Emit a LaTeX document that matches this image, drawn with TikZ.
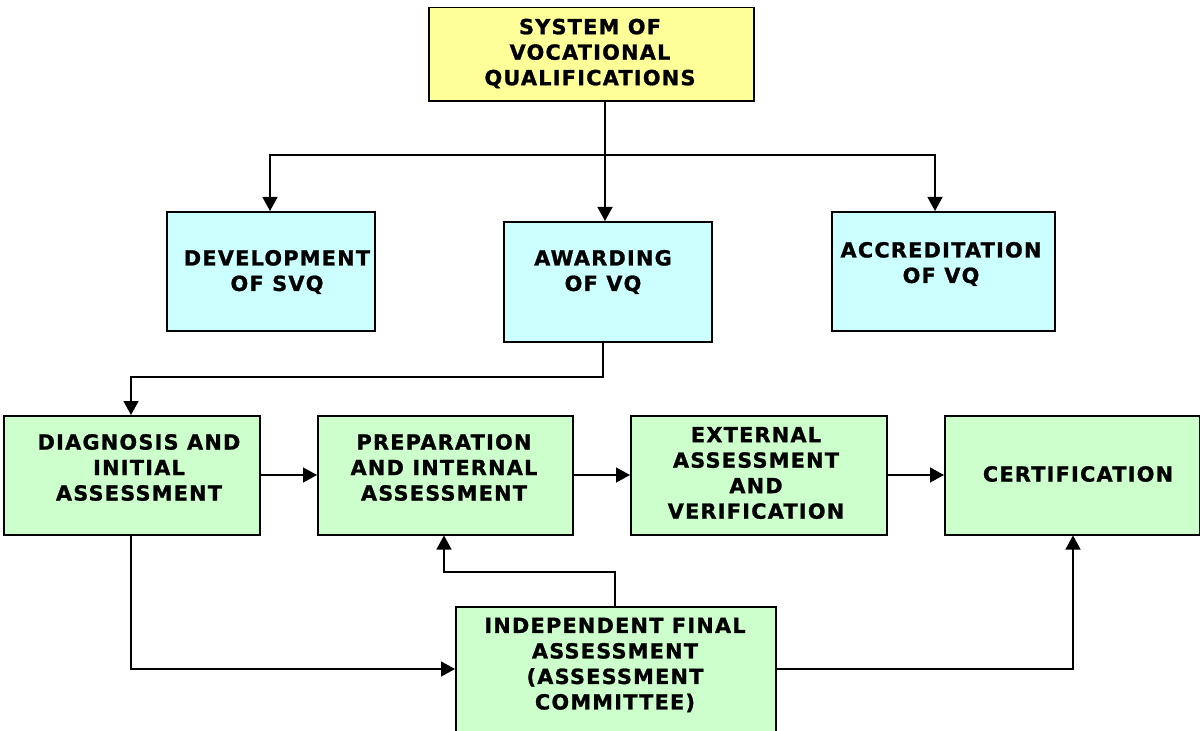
\documentclass[tikz,border=0pt]{standalone}
\usepackage{fontspec}
\setmainfont{DejaVu Sans}[LetterSpace=6, BoldFeatures={FakeBold=1.2}]
\usetikzlibrary{arrows.meta}
\definecolor{boxyellow}{HTML}{FFFF99}
\definecolor{boxcyan}{HTML}{CCFFFF}
\definecolor{boxgreen}{HTML}{CCFFCC}
\tikzset{
  box/.style={draw=black, line width=1.5bp, anchor=north west, inner sep=0pt},
  txt/.style={align=center, inner sep=0pt, font=\fontsize{20.8bp}{25.5bp}\selectfont\bfseries},
  conn/.style={line width=1.3bp, draw=black},
  arr/.style={conn, -{Triangle[length=14bp,width=15bp]}},
}
\begin{document}
\begin{tikzpicture}[x=1bp,y=-1bp]
\useasboundingbox (0,0) rectangle (1200,731);
% boxes
\node[box, fill=boxyellow, minimum width=325bp, minimum height=93bp] (sys) at (428,7) {};
\node[box, fill=boxcyan, minimum width=208bp, minimum height=119bp] (dev) at (166,211) {};
\node[box, fill=boxcyan, minimum width=208bp, minimum height=120bp] (awd) at (503,221) {};
\node[box, fill=boxcyan, minimum width=223bp, minimum height=119bp] (acc) at (831,211) {};
\node[box, fill=boxgreen, minimum width=256bp, minimum height=119bp] (dia) at (3,415) {};
\node[box, fill=boxgreen, minimum width=255bp, minimum height=119bp] (pre) at (317,415) {};
\node[box, fill=boxgreen, minimum width=256bp, minimum height=119bp] (ext) at (630,415) {};
\node[box, fill=boxgreen, minimum width=255bp, minimum height=119bp] (cer) at (944,415) {};
\node[box, fill=boxgreen, minimum width=320bp, minimum height=140bp] (ind) at (455,606) {};
% texts
\node[txt] (sysT) at (590,53.5) {SYSTEM OF\\VOCATIONAL\\QUALIFICATIONS};
\node[txt] (devT) at (277,272) {DEVELOPMENT\\OF SVQ};
\node[txt] (awdT) at (603,272) {AWARDING\\OF VQ};
\node[txt] (accT) at (941,264) {ACCREDITATION\\OF VQ};
\node[txt] (diaT) at (139,467.5) {DIAGNOSIS AND\\INITIAL\\ASSESSMENT};
\node[txt] (preT) at (444,467.5) {PREPARATION\\AND INTERNAL\\ASSESSMENT};
\node[txt] (extT) at (756,473) {EXTERNAL\\ASSESSMENT\\AND\\VERIFICATION};
\node[txt] (cerT) at (1078,474) {CERTIFICATION};
\node[txt] (indT) at (615,665) {INDEPENDENT FINAL\\ASSESSMENT\\(ASSESSMENT\\COMMITTEE)};
% connectors
\coordinate (j1) at (605,155);
\draw[conn] (sys.south -| j1) -- (j1);
\draw[arr] (j1) -| (dev.north -| 270,0);
\draw[arr] (j1) -- (awd.north -| j1);
\draw[arr] (j1) -| (acc.north -| 935,0);
\coordinate (j2) at (603,377);
\draw[arr] (awd.south -| j2) -- (j2) -| (dia.north -| 131,0);
\draw[arr] (dia.east |- 0,475) -- (pre.west |- 0,475);
\draw[arr] (pre.east |- 0,475) -- (ext.west |- 0,475);
\draw[arr] (ext.east |- 0,475) -- (cer.west |- 0,475);
\draw[arr] (dia.south -| 131,0) |- (ind.west |- 0,669);
\draw[arr] (ind.north -| 615,0) -- (615,572) -| (pre.south -| 444,0);
\draw[arr] (ind.east |- 0,669) -| (cer.south -| 1073,0);
\end{tikzpicture}
\end{document}
